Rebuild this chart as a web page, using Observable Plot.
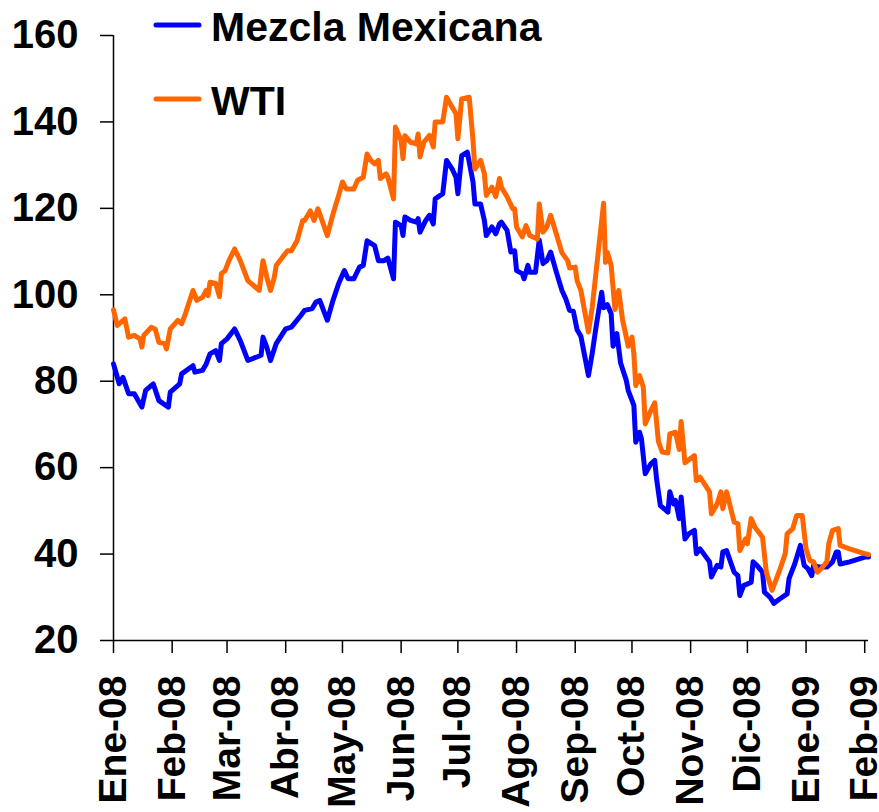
<!DOCTYPE html>
<html><head><meta charset="utf-8">
<script src="https://cdn.jsdelivr.net/npm/d3@7"></script>
<script src="https://cdn.jsdelivr.net/npm/@observablehq/plot@0.6"></script>
<style>
body{margin:0;background:#fff;}
#wrap{position:relative;width:879px;height:812px;}
#legend{position:absolute;left:0;top:0;}
</style></head>
<body><div id="wrap"></div>
<script>
const seriesNames = ["Mezcla Mexicana", "WTI"];
const seriesColors = ["#0000FF", "#FF6600"];
const tickLabels = ["Ene-08","Feb-08","Mar-08","Abr-08","May-08","Jun-08","Jul-08","Ago-08","Sep-08","Oct-08","Nov-08","Dic-08","Ene-09","Feb-09"];
const yTicks = [20, 40, 60, 80, 100, 120, 140, 160];

const mmDates = ["2008-01-01","2008-01-04","2008-01-06","2008-01-09","2008-01-12","2008-01-16","2008-01-18","2008-01-22","2008-01-25","2008-01-30","2008-01-31","2008-02-05","2008-02-06","2008-02-12","2008-02-13","2008-02-17","2008-02-19","2008-02-21","2008-02-24","2008-02-26","2008-02-27","2008-03-01","2008-03-05","2008-03-08","2008-03-12","2008-03-19","2008-03-20","2008-03-22","2008-03-24","2008-03-27","2008-04-01","2008-04-04","2008-04-09","2008-04-11","2008-04-15","2008-04-17","2008-04-19","2008-04-23","2008-04-26","2008-04-29","2008-05-02","2008-05-04","2008-05-07","2008-05-10","2008-05-12","2008-05-14","2008-05-18","2008-05-20","2008-05-23","2008-05-25","2008-05-28","2008-05-29","2008-06-01","2008-06-02","2008-06-03","2008-06-06","2008-06-09","2008-06-10","2008-06-11","2008-06-14","2008-06-16","2008-06-18","2008-06-19","2008-06-23","2008-06-25","2008-06-28","2008-06-30","2008-07-01","2008-07-03","2008-07-06","2008-07-09","2008-07-10","2008-07-13","2008-07-15","2008-07-16","2008-07-19","2008-07-21","2008-07-23","2008-07-24","2008-07-27","2008-07-29","2008-07-31","2008-08-01","2008-08-04","2008-08-05","2008-08-07","2008-08-08","2008-08-11","2008-08-13","2008-08-15","2008-08-17","2008-08-19","2008-08-22","2008-08-25","2008-08-27","2008-08-29","2008-08-31","2008-09-02","2008-09-04","2008-09-08","2008-09-10","2008-09-12","2008-09-15","2008-09-16","2008-09-18","2008-09-20","2008-09-21","2008-09-23","2008-09-25","2008-09-28","2008-09-29","2008-10-02","2008-10-03","2008-10-05","2008-10-06","2008-10-08","2008-10-11","2008-10-13","2008-10-14","2008-10-16","2008-10-18","2008-10-20","2008-10-21","2008-10-23","2008-10-24","2008-10-26","2008-10-27","2008-10-29","2008-10-31","2008-11-03","2008-11-04","2008-11-06","2008-11-11","2008-11-12","2008-11-15","2008-11-17","2008-11-18","2008-11-20","2008-11-24","2008-11-26","2008-11-27","2008-11-29","2008-12-03","2008-12-04","2008-12-06","2008-12-09","2008-12-10","2008-12-13","2008-12-15","2008-12-18","2008-12-22","2008-12-23","2008-12-26","2008-12-29","2008-12-31","2009-01-02","2009-01-04","2009-01-05","2009-01-08","2009-01-12","2009-01-15","2009-01-17","2009-01-18","2009-01-19","2009-01-24","2009-02-01","2009-02-03"];
const mmValues = [84.0,79.4,80.9,77.1,77.1,74.0,77.9,79.4,75.5,74.0,77.5,79.4,81.7,83.6,82.1,82.5,84.0,86.3,87.1,84.8,88.7,89.8,92.1,89.4,84.8,86.0,90.2,87.9,84.8,88.7,92.1,92.5,95.2,96.4,96.8,98.3,98.7,94.1,98.7,102.6,105.6,103.7,103.7,106.4,106.8,112.5,111.4,107.9,107.9,108.5,103.7,116.8,116.0,113.7,118.0,117.2,116.8,117.6,114.5,117.2,118.4,116.4,122.2,123.4,131.1,129.1,127.2,123.4,132.2,133.0,126.1,121.0,121.0,117.2,113.7,115.7,114.1,116.4,116.8,114.9,109.9,110.2,105.6,104.9,103.7,106.8,105.2,105.2,112.7,107.2,107.9,109.9,105.3,101.0,99.1,96.4,96.2,91.9,90.4,81.3,86.5,92.5,100.6,97.0,97.7,95.6,88.1,91.0,84.2,80.2,77.9,74.4,65.9,68.2,66.7,58.6,60.9,61.7,57.4,51.2,50.5,49.7,54.4,51.6,52.4,48.2,53.2,43.5,44.7,45.5,40.1,41.2,38.2,34.7,37.4,37.0,40.5,40.8,35.8,35.0,30.4,32.7,33.5,38.2,37.4,35.8,31.2,30.0,28.6,29.6,30.8,34.3,37.7,42.0,37.4,36.6,35.0,37.4,37.0,37.0,38.2,40.5,40.5,37.7,38.2,39.3,39.3];

const wtiDates = ["2008-01-01","2008-01-03","2008-01-07","2008-01-09","2008-01-12","2008-01-15","2008-01-16","2008-01-17","2008-01-21","2008-01-23","2008-01-25","2008-01-28","2008-01-29","2008-01-31","2008-02-04","2008-02-06","2008-02-08","2008-02-12","2008-02-14","2008-02-17","2008-02-19","2008-02-20","2008-02-21","2008-02-24","2008-02-26","2008-02-27","2008-02-29","2008-03-02","2008-03-05","2008-03-08","2008-03-12","2008-03-18","2008-03-20","2008-03-22","2008-03-24","2008-03-26","2008-03-27","2008-03-31","2008-04-02","2008-04-04","2008-04-07","2008-04-10","2008-04-11","2008-04-14","2008-04-16","2008-04-18","2008-04-19","2008-04-23","2008-04-26","2008-04-29","2008-05-01","2008-05-03","2008-05-07","2008-05-09","2008-05-12","2008-05-14","2008-05-16","2008-05-18","2008-05-20","2008-05-21","2008-05-24","2008-05-25","2008-05-28","2008-05-29","2008-06-01","2008-06-02","2008-06-03","2008-06-06","2008-06-09","2008-06-10","2008-06-11","2008-06-13","2008-06-16","2008-06-18","2008-06-19","2008-06-23","2008-06-25","2008-06-28","2008-06-30","2008-07-01","2008-07-03","2008-07-07","2008-07-09","2008-07-10","2008-07-13","2008-07-15","2008-07-16","2008-07-19","2008-07-21","2008-07-23","2008-07-24","2008-07-27","2008-07-30","2008-07-31","2008-08-01","2008-08-04","2008-08-06","2008-08-08","2008-08-12","2008-08-13","2008-08-15","2008-08-17","2008-08-19","2008-08-22","2008-08-25","2008-08-28","2008-08-29","2008-09-01","2008-09-02","2008-09-04","2008-09-08","2008-09-10","2008-09-16","2008-09-17","2008-09-18","2008-09-20","2008-09-22","2008-09-24","2008-09-26","2008-09-28","2008-09-29","2008-10-01","2008-10-02","2008-10-03","2008-10-05","2008-10-07","2008-10-08","2008-10-11","2008-10-13","2008-10-15","2008-10-17","2008-10-20","2008-10-21","2008-10-24","2008-10-26","2008-10-27","2008-10-29","2008-11-03","2008-11-04","2008-11-06","2008-11-11","2008-11-12","2008-11-15","2008-11-17","2008-11-18","2008-11-20","2008-11-24","2008-11-26","2008-11-27","2008-11-30","2008-12-01","2008-12-03","2008-12-05","2008-12-09","2008-12-11","2008-12-14","2008-12-18","2008-12-21","2008-12-22","2008-12-25","2008-12-27","2008-12-30","2009-01-01","2009-01-03","2009-01-05","2009-01-07","2009-01-09","2009-01-12","2009-01-13","2009-01-15","2009-01-18","2009-01-19","2009-01-24","2009-02-01","2009-02-03"];
const wtiValues = [96.5,92.9,94.4,90.2,90.6,89.8,87.9,90.6,92.5,92.1,89.0,88.7,87.5,92.1,94.1,93.3,95.6,101.0,98.7,99.4,101.0,99.8,102.9,102.6,99.6,104.9,105.6,107.9,110.6,107.9,103.3,101.0,107.9,104.1,101.0,104.1,106.8,109.1,110.2,110.2,112.5,117.2,117.2,119.4,117.2,119.9,118.7,113.7,118.7,123.0,126.1,124.5,124.5,126.5,127.2,132.6,131.1,130.3,131.1,126.9,128.0,127.2,122.2,138.8,135.7,131.5,136.8,135.3,134.9,137.2,131.9,135.3,136.9,134.2,140.0,140.0,145.7,143.4,141.9,136.1,145.3,145.7,135.7,129.1,131.1,128.0,123.0,124.9,122.7,126.9,124.9,122.7,119.9,119.9,115.7,113.4,116.0,113.7,112.9,121.0,114.5,115.7,118.4,114.1,109.7,107.9,106.2,106.4,103.3,101.0,91.4,97.1,121.2,107.5,109.8,106.8,96.6,101.0,94.3,90.2,88.1,90.2,86.3,79.0,81.3,78.6,70.1,73.2,75.0,66.0,63.6,63.4,67.8,68.2,64.2,70.7,61.1,62.8,57.0,57.8,54.4,49.3,51.6,54.4,50.5,54.4,47.4,47.0,40.8,43.5,42.4,48.2,46.2,43.9,35.8,31.6,36.2,40.1,44.7,45.9,48.9,48.9,41.2,38.5,38.2,35.8,36.6,38.2,42.4,45.5,45.9,42.0,41.2,40.1,39.9];

const parse = d3.utcParse("%Y-%m-%d");
const mm = mmDates.map((d, i) => ({date: parse(d), value: mmValues[i], series: seriesNames[0]}));
const wti = wtiDates.map((d, i) => ({date: parse(d), value: wtiValues[i], series: seriesNames[1]}));

const xStart = parse("2008-01-01");
const xEnd = parse("2009-02-03");
const monthTicks = d3.utcMonth.range(xStart, parse("2009-02-02"));
const labelFor = d => tickLabels[(d.getUTCFullYear() - 2008) * 12 + d.getUTCMonth()];

const font = "Arial, 'Liberation Sans', sans-serif";

const chart = Plot.plot({
  width: 879,
  height: 812,
  marginLeft: 113,
  marginRight: 11,
  marginTop: 35,
  marginBottom: 172,
  style: {fontFamily: font, fontSize: "40px", fontWeight: "bold", color: "#000", background: "#fff"},
  x: {type: "utc", domain: [xStart, xEnd]},
  y: {domain: [20, 160]},
  marks: [
    Plot.axisY({ticks: yTicks, tickSize: 13, tickPadding: 22, strokeWidth: 1.5, label: null, tickFormat: d => String(d)}),
    Plot.axisX({ticks: monthTicks, tickSize: 13, tickPadding: 22, strokeWidth: 1.5, tickRotate: -90, fontSize: 39, label: null, tickFormat: labelFor}),
    Plot.ruleX([xStart], {stroke: "#000", strokeWidth: 1.5}),
    Plot.ruleY([20], {stroke: "#000", strokeWidth: 1.5}),
    Plot.line(mm, {x: "date", y: "value", stroke: seriesColors[0], strokeWidth: 5, strokeLinejoin: "round", strokeLinecap: "round"}),
    Plot.line(wti, {x: "date", y: "value", stroke: seriesColors[1], strokeWidth: 5, strokeLinejoin: "round", strokeLinecap: "round"})
  ]
});

const wrap = document.getElementById("wrap");
wrap.appendChild(chart);

// Legend overlay
const leg = d3.select(wrap).append("svg").attr("id", "legend").attr("width", 600).attr("height", 130);
const legY = [25, 99];
seriesNames.forEach((name, i) => {
  leg.append("line").attr("x1", 156).attr("x2", 199).attr("y1", legY[i]).attr("y2", legY[i])
    .attr("stroke", seriesColors[i]).attr("stroke-width", 5).attr("stroke-linecap", "round");
  leg.append("text").attr("x", 211).attr("y", legY[i] + 16)
    .attr("font-family", font).attr("font-size", 41).attr("font-weight", "bold").attr("fill", "#000")
    .text(name);
});
</script>
</body></html>
